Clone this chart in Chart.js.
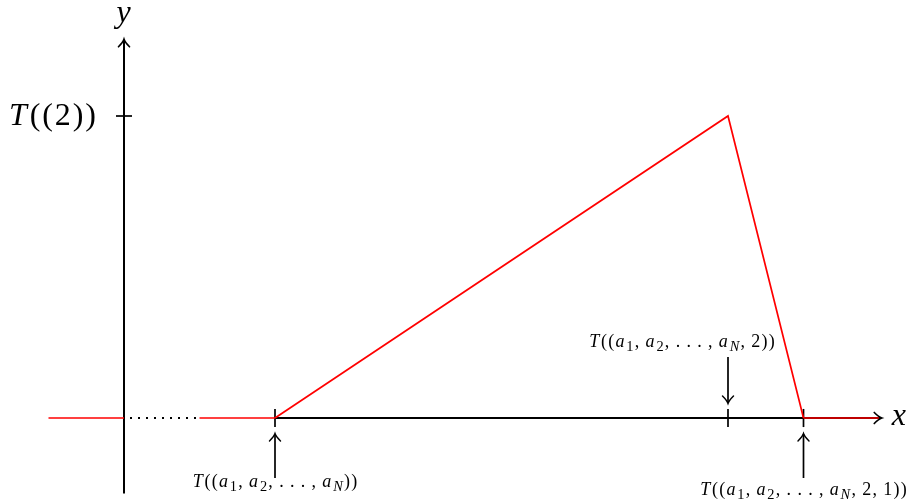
<!DOCTYPE html>
<html><head><meta charset="utf-8">
<script src="https://cdn.jsdelivr.net/npm/chart.js@4/dist/chart.umd.min.js"></script>
<style>html,body{margin:0;padding:0;background:#fff;}canvas{display:block}</style>
</head><body>
<canvas id="c" width="909" height="504"></canvas>
<script>
// Parameter values marked on the x axis and the profile height at each
const markX = [2, 8, 9];
const markY = [0, 4, 0];
const peakValue = 4;
// Red stretches of the zero level away from the profile
const leftOuter = [-1, 0];
const leftInner = [1, 2];
const rightOuter = [9, 10];
const dottedGap = [0, 1];
// Axis extents
const xAxisRange = [2, 10.03];
const yAxisRange = [-1, 5.01];
// Text: '_' makes the next character a subscript
const yTickLabel = 'T((2))';
const xAxisLabel = 'x';
const yAxisLabel = 'y';
const markLabels = ['T((a_1, a_2, . . . , a_N))', 'T((a_1, a_2, . . . , a_N, 2))', 'T((a_1, a_2, . . . , a_N, 2, 1))'];

const RED = '#ff0000', BLACK = '#000000';
const seg = (xs, ys) => xs.map((x, i) => ({x, y: ys[i]}));

const datasets = [
  // red zero level and profile (drawn on top)
  {data: seg(leftOuter, [0, 0]), borderColor: RED, borderWidth: 1.7, order: 0},
  {data: seg(leftInner, [0, 0]), borderColor: RED, borderWidth: 1.7, order: 0},
  {data: seg(markX, markY), borderColor: RED, borderWidth: 1.7, order: 0},
  {data: seg(rightOuter, [0, 0]), borderColor: RED, borderWidth: 1.7, order: 0},
  // axes
  {data: seg(xAxisRange, [0, 0]), borderColor: BLACK, borderWidth: 2, order: 2, arrowHead: true},
  {data: seg([0, 0], yAxisRange), borderColor: BLACK, borderWidth: 2, order: 2, arrowHead: true},
  {data: seg(dottedGap, [0, 0]), borderColor: BLACK, borderWidth: 2, borderDash: [2, 6], borderDashOffset: -6, order: 2},
  // tick marks
  ...markX.map(v => ({data: seg([v, v], [-0.12, 0.12]), borderColor: BLACK, borderWidth: 1.7, order: 1})),
  {data: seg([-0.106, 0.106], [peakValue, peakValue]), borderColor: BLACK, borderWidth: 1.7, order: 1},
  // pointer arrows to the marks
  {data: seg([markX[0], markX[0]], [-0.795, -0.212]), borderColor: BLACK, borderWidth: 1.7, order: 1, arrowHead: true},
  {data: seg([markX[1], markX[1]], [0.808, 0.199]), borderColor: BLACK, borderWidth: 1.7, order: 1, arrowHead: true},
  {data: seg([markX[2], markX[2]], [-0.795, -0.212]), borderColor: BLACK, borderWidth: 1.7, order: 1, arrowHead: true}
].map(d => Object.assign({pointRadius: 0, tension: 0, fill: false, clip: false, borderCapStyle: 'butt'}, d));

// Text placements in data units: [text, x, y, size, align, tracking (em), subscript scale, space (em)]
const textItems = [
  [yAxisLabel, 0, 5.245, 32, 'center', 0, 0.72, 0.22],
  [xAxisLabel, 10.17, -0.093, 32, 'left', 0, 0.72, 0.22],
  [yTickLabel, -0.371, 3.881, 32, 'right', 0.06, 0.72, 0.22],
  [markLabels[0], markX[0], -0.914, 18, 'center', 0.07, 0.8, 0.28],
  [markLabels[1], 7.391, 0.94, 18, 'center', 0.07, 0.8, 0.28],
  [markLabels[2], markX[2], -1.02, 18, 'center', 0.07, 0.8, 0.28]
];

function parseMath(s) {
  const out = [];
  for (let i = 0; i < s.length; i++) {
    let ch = s[i], sub = false;
    if (ch === '_') { sub = true; ch = s[++i]; }
    out.push({ch, sub, italic: /[A-Za-z]/.test(ch)});
  }
  return out;
}
function fontFor(g, size, subScale) {
  const sz = g.sub ? size * subScale : size;
  return (g.italic ? 'italic ' : '') + sz + 'px "Liberation Serif", "DejaVu Serif", serif';
}
function glyphWidth(ctx, g, size, track, subScale, space) {
  if (g.ch === ' ') return size * space;
  ctx.font = fontFor(g, size, subScale);
  return ctx.measureText(g.ch).width + size * track + (g.italic && !g.sub ? size * 0.03 : 0);
}
function drawMath(ctx, s, x, y, size, align, track, subScale, space) {
  const gl = parseMath(s);
  const total = gl.reduce((a, g) => a + glyphWidth(ctx, g, size, track, subScale, space), 0) - size * track;
  let cx = align === 'center' ? x - total / 2 : align === 'right' ? x - total : x;
  ctx.textBaseline = 'alphabetic';
  ctx.textAlign = 'left';
  ctx.fillStyle = BLACK;
  for (const g of gl) {
    const w = glyphWidth(ctx, g, size, track, subScale, space);
    if (g.ch !== ' ') {
      ctx.font = fontFor(g, size, subScale);
      ctx.fillText(g.ch, cx, y + (g.sub ? size * 0.2 : 0));
    }
    cx += w;
  }
}

const decorations = {
  id: 'decorations',
  afterDatasetsDraw(chart) {
    const ctx = chart.ctx, sx = chart.scales.x, sy = chart.scales.y;
    ctx.save();
    chart.data.datasets.forEach((ds, i) => {
      if (!ds.arrowHead) return;
      const pts = chart.getDatasetMeta(i).data;
      const a = pts[pts.length - 2], b = pts[pts.length - 1];
      const ang = Math.atan2(b.y - a.y, b.x - a.x);
      ctx.save();
      ctx.translate(b.x, b.y);
      ctx.rotate(ang);
      ctx.strokeStyle = BLACK;
      ctx.lineWidth = ds.borderWidth * 0.85;
      ctx.lineCap = 'round';
      ctx.beginPath();
      ctx.moveTo(-7, -5.5);
      ctx.quadraticCurveTo(-2.5, -1, 0.5, 0);
      ctx.quadraticCurveTo(-2.5, 1, -7, 5.5);
      ctx.stroke();
      ctx.restore();
    });
    for (const [t, vx, vy, size, align, track, subScale, space] of textItems) {
      drawMath(ctx, t, sx.getPixelForValue(vx), sy.getPixelForValue(vy), size, align, track, subScale, space);
    }
    ctx.restore();
  }
};

new Chart(document.getElementById('c'), {
  type: 'line',
  data: {datasets},
  options: {
    responsive: false,
    animation: false,
    devicePixelRatio: 1,
    layout: {padding: 0},
    parsing: false,
    plugins: {legend: {display: false}, tooltip: {enabled: false}},
    scales: {
      x: {type: 'linear', display: false, min: -124 / 75.5, max: 785 / 75.5},
      y: {type: 'linear', display: false, min: -86 / 75.5, max: 418 / 75.5}
    }
  },
  plugins: [decorations]
});
</script>
</body></html>
